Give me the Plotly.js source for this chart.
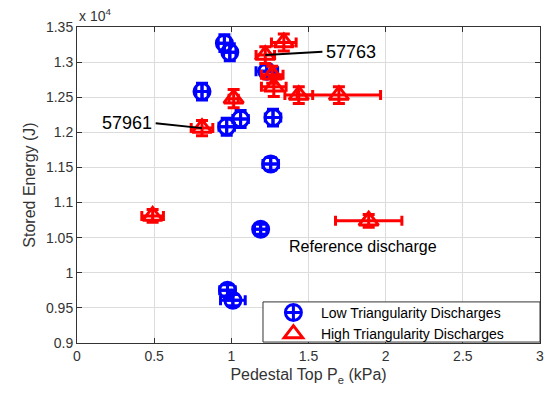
<!DOCTYPE html>
<html>
<head>
<meta charset="utf-8">
<script src="https://cdn.plot.ly/plotly-3.0.1.min.js"></script>
<style>html,body{margin:0;padding:0;background:#fff;}#chart{width:555px;height:396px;}</style>
</head>
<body>
<div id="chart"></div>
<script>
// Low triangularity discharges
const lowPe    = [0.955, 0.99, 0.81, 1.23, 0.97, 1.06, 1.27, 1.255, 1.19, 0.975, 1.01];
const lowW     = [13270, 13140, 12580, 12870, 12080, 12190, 12210, 11550, 10620, 9750, 9610];
const lowPeErr = [0.04, 0.04, 0.04, 0.07, 0.05, 0.05, 0.05, 0.05, 0.04, 0.05, 0.08];
const lowWErr  = [120, 120, 120, 90, 120, 120, 120, 90, 70, 80, 80];

// High triangularity discharges
const highPe    = [1.34, 1.22, 1.265, 1.275, 1.437, 1.697, 1.015, 0.81, 0.49, 1.89];
const highW     = [13280, 13100, 12820, 12650, 12530, 12530, 12480, 12060, 10810, 10740];
const highPeErr = [0.08, 0.06, 0.07, 0.08, 0.09, 0.27, 0.03, 0.07, 0.07, 0.215];
const highWErr  = [120, 120, 120, 140, 120, 120, 130, 110, 90, 90];

const yTickVals = [9000, 9500, 10000, 10500, 11000, 11500, 12000, 12500, 13000, 13500];
const yTickText = ['0.9', '0.95', '1', '1.05', '1.1', '1.15', '1.2', '1.25', '1.3', '1.35'];
const xTickVals = [0, 0.5, 1, 1.5, 2, 2.5, 3];
const xTickText = ['0', '0.5', '1', '1.5', '2', '2.5', '3'];

const labels = [
  {text: '57763', px: 1.22, w: 13100, tx: 1.60, tw: 13150},
  {text: '57961', px: 0.81, w: 12060, tx: 0.50, tw: 12130}
];

const font = 'Liberation Sans, Arial, sans-serif';

const traces = [
  {
    x: lowPe, y: lowW, type: 'scatter', mode: 'markers',
    name: 'Low Triangularity Discharges',
    marker: {symbol: 'circle-cross-open', size: 16, color: '#0000ff', line: {width: 3, color: '#0000ff'}},
    error_x: {type: 'data', array: lowPeErr, visible: true, color: '#0000ff', thickness: 3, width: 5},
    error_y: {type: 'data', array: lowWErr, visible: true, color: '#0000ff', thickness: 3, width: 6}
  },
  {
    x: highPe, y: highW, type: 'scatter', mode: 'markers',
    name: 'High Triangularity Discharges',
    marker: {symbol: 'triangle-up-open', size: 17, color: '#ff0000', line: {width: 3, color: '#ff0000'}},
    error_x: {type: 'data', array: highPeErr, visible: true, color: '#ff0000', thickness: 3, width: 5},
    error_y: {type: 'data', array: highWErr, visible: true, color: '#ff0000', thickness: 3, width: 6}
  }
];

const annotations = [];
labels.forEach(function(l){
  annotations.push({
    x: l.px, y: l.w, xref: 'x', yref: 'y',
    ax: l.tx, ay: l.tw, axref: 'x', ayref: 'y',
    showarrow: true, arrowhead: 0, arrowwidth: 2, arrowcolor: '#000',
    text: '', standoff: 0
  });
  annotations.push({
    x: l.tx, y: l.tw, xref: 'x', yref: 'y',
    text: l.text, showarrow: false,
    xanchor: l.tx > l.px ? 'left' : 'right', yanchor: 'middle',
    font: {family: font, size: 18, color: '#000'}
  });
});
annotations.push({
  x: 1.36, y: 10380, xref: 'x', yref: 'y', text: 'Reference discharge',
  showarrow: false, xanchor: 'left', yanchor: 'middle',
  font: {family: font, size: 16, color: '#000'}
});
annotations.push({
  x: 0, y: 1, xref: 'paper', yref: 'paper', text: 'x 10<sup>4</sup>',
  showarrow: false, xanchor: 'left', yanchor: 'bottom', yshift: 1,
  font: {family: font, size: 14, color: '#333'}
});

const layout = {
  width: 555, height: 396,
  margin: {l: 77, r: 15, t: 27, b: 53},
  paper_bgcolor: '#fff', plot_bgcolor: '#fff',
  font: {family: font, size: 13, color: '#333'},
  showlegend: true,
  legend: {
    x: 0.408, y: 0.146, xanchor: 'left', yanchor: 'top',
    bgcolor: 'rgba(0,0,0,0)', borderwidth: 0,
    font: {family: font, size: 14, color: '#000'},
    tracegroupgap: 0, itemwidth: 45
  },
  shapes: [{
    type: 'rect', xref: 'paper', yref: 'paper',
    x0: 0.4017, x1: 1, y0: 0.003, y1: 0.13,
    line: {color: '#333', width: 1}, fillcolor: '#fff', layer: 'above'
  }],
  xaxis: {
    range: [0, 3], tickvals: xTickVals, ticktext: xTickText,
    showgrid: true, gridcolor: '#dcdcdc', zeroline: false,
    showline: true, linecolor: '#333', linewidth: 1, mirror: 'ticks',
    ticks: 'inside', ticklen: 5, tickcolor: '#333',
    tickfont: {family: font, size: 14, color: '#333'},
    title: {text: 'Pedestal Top P<sub>e</sub> (kPa)', font: {family: font, size: 16, color: '#333'}, standoff: 6}
  },
  yaxis: {
    range: [9000, 13500], tickvals: yTickVals, ticktext: yTickText,
    showgrid: true, gridcolor: '#dcdcdc', zeroline: false,
    showline: true, linecolor: '#333', linewidth: 1, mirror: 'ticks',
    ticks: 'inside', ticklen: 5, tickcolor: '#333',
    tickfont: {family: font, size: 14, color: '#333'},
    title: {text: 'Stored Energy (J)', font: {family: font, size: 16, color: '#333'}, standoff: 6}
  },
  annotations: annotations
};

Plotly.newPlot('chart', traces, layout, {displayModeBar: false, staticPlot: true});
</script>
</body>
</html>
